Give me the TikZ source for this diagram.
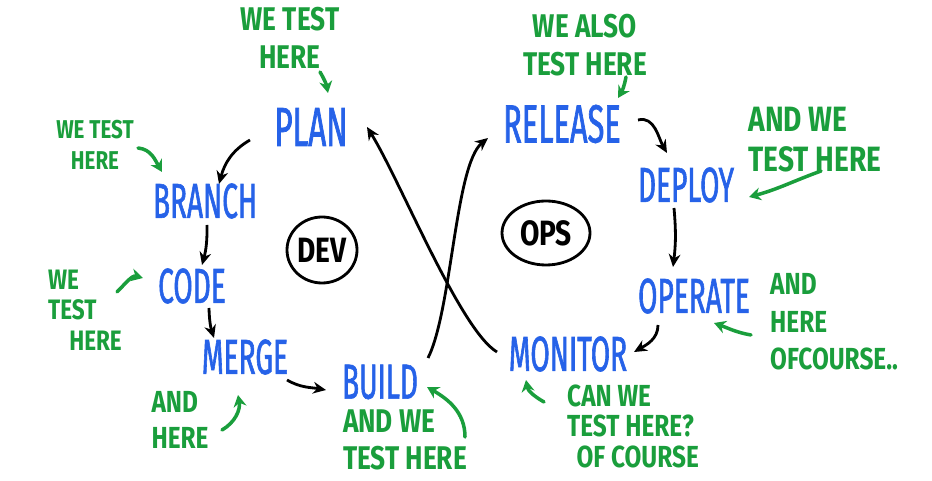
\documentclass[tikz,border=0pt]{standalone}
\usepackage{fontspec}
\newfontfamily\stagefont[FakeStretch=0.57,FakeBold=1.2]{Fira Sans}
\newfontfamily\notefont[FakeStretch=0.8]{Fira Sans}
\usetikzlibrary{arrows.meta,calc,shapes.geometric}
\definecolor{stageblue}{RGB}{38,98,232}
\definecolor{notegreen}{RGB}{26,158,60}

\begin{document}
\begin{tikzpicture}[x=0.03cm, y=0.03cm,
        stage/.style = {text=stageblue, inner sep=0pt, font=\stagefont\fontsize{42}{44}\selectfont},
        note/.style = {text=notegreen, inner sep=0pt, align=center, font=\notefont\bfseries\fontsize{28}{32}\selectfont},
        side/.style = {ellipse, draw=black, line width=2.4pt, inner sep=0pt, font=\notefont\bfseries\fontsize{30}{30}\selectfont},
        flow/.style = {-{Stealth[length=11pt,width=10pt]}, line width=2.4pt, draw=black},
        test/.style = {-{Stealth[length=10pt,width=11pt]}, line width=3pt, draw=notegreen, line cap=round}
    ]
        \useasboundingbox (0,0) rectangle (932,480);

        % Dev half
        \node[stage, font=\stagefont\fontsize{47}{49}\selectfont] (plan) at (311,353) {PLAN};
        \node[stage] (branch) at (205,279) {BRANCH};
        \node[stage] (code) at (192,194) {CODE};
        \node[stage] (merge) at (245,123) {MERGE};
        \node[stage] (build) at (380,98) {BUILD};
        \node[side, minimum width=2.1cm, minimum height=1.98cm] (dev) at (322,230) {DEV};

        % Ops half
        \node[stage, font=\stagefont\fontsize{46}{48}\selectfont] (release) at (562,356) {RELEASE};
        \node[stage] (deploy) at (686,295) {DEPLOY};
        \node[stage] (operate) at (694,184) {OPERATE};
        \node[stage] (monitor) at (568,126) {MONITOR};
        \node[side, minimum width=2.64cm, minimum height=1.92cm] (ops) at (546,247) {OPS};

        % Test notes
        \node[note] (n1) at (290,442) {WE TEST\\HERE};
        \node[note, font=\notefont\bfseries\fontsize{22}{27}\selectfont] (n2) at (95,335) {WE TEST\\HERE};
        \node[note, align=left, font=\notefont\bfseries\fontsize{24}{26}\selectfont] (n3) at (85,170) {WE\\TEST\\\hspace{18pt}HERE};
        \node[note, align=left, font=\notefont\bfseries\fontsize{26}{30}\selectfont] (n4) at (180,60) {AND\\HERE};
        \node[note, align=left] (n5) at (405,40) {AND WE\\TEST HERE};
        \node[note] (n6) at (585,435) {WE ALSO\\TEST HERE};
        \node[note, align=left, font=\notefont\bfseries\fontsize{30}{34}\selectfont] (n7) at (815,340) {AND WE\\TEST HERE};
        \node[note, align=left, anchor=west, font=\notefont\bfseries\fontsize{26}{32}\selectfont] (n8) at (770,158) {AND\\HERE\\OFCOURSE..};
        \node[note, align=left, anchor=west, font=\notefont\bfseries\fontsize{26}{26}\selectfont] (n9) at (567,54) {CAN WE\\TEST HERE?\\\hspace{8pt}OF COURSE};

        % The loop
        \draw[flow] ($(plan)+(-61,-13)$) to[out=210, in=75] ($(branch)+(14,17)$);
        \draw[flow] ($(branch)+(2,-24)$) to[bend left=8] ($(code)+(10,21)$);
        \draw[flow] ($(code)+(17,-22)$) to[bend right=8] ($(merge)+(-31,19)$);
        \draw[flow] ($(merge)+(42,-23)$) to[out=-30, in=170] ($(build)+(-54,-8)$);
        \draw[flow] ($(build)+(48,24)$) .. controls ($(build)+(72,72)$) and ($(release)+(-107,-41)$) .. ($(release)+(-74,-14)$);
        \draw[flow] ($(monitor)+(-71,2)$) .. controls ($(monitor)+(-108,24)$) and ($(plan)+(89,-53)$) .. ($(plan)+(56,0)$);
        \draw[flow] ($(release)+(76,4)$) to[out=15, in=120] ($(deploy)+(-19,32)$);
        \draw[flow] ($(deploy)+(-12,-23)$) to[bend left=6] ($(operate)+(-21,29)$);
        \draw[flow] ($(operate)+(-36,-29)$) to[out=-90, in=30] ($(monitor)+(66,2)$);

        % Where we test
        \draw[test] ($(n1)+(30,-34)$) to[bend left=10] ($(plan)+(17,34)$);
        \draw[test] ($(n2)+(43,-3)$) to[out=-5, in=120] ($(branch)+(-43,29)$);
        \draw[test] ($(n3)+(32,18)$) to[out=45, in=165] ($(code)+(-49,8)$);
        \draw[test] ($(n4)+(42,-10)$) to[out=30, in=-80] ($(merge)+(-7,-38)$);
        \draw[test] ($(n5)+(60,3)$) to[out=90, in=-30] ($(build)+(47,-5)$);
        \draw[test] ($(n6)+(41,-32)$) to[bend left=10] ($(release)+(56,26)$);
        \draw[test] ($(n7)+(6,-31)$) to[out=200, in=15] ($(deploy)+(63,-12)$);
        \draw[test] ($(n8.west)+(-19,-13)$) to[out=170, in=-20] ($(operate)+(20,-27)$);
        \draw[test] ($(n9.west)+(-23,24)$) to[out=150, in=-80] ($(monitor)+(-42,-26)$);

    \end{tikzpicture}
\end{document}
